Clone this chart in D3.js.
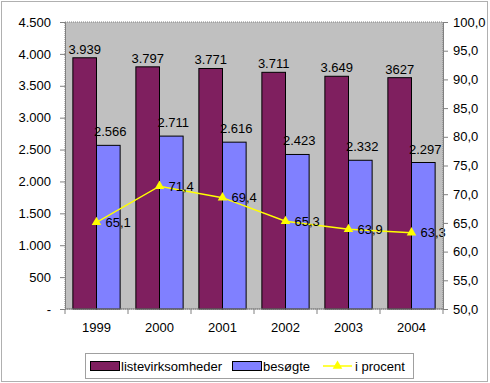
<!DOCTYPE html>
<html>
<head>
<meta charset="utf-8">
<script src="https://cdn.jsdelivr.net/npm/d3@7"></script>
<style>
  body { margin: 0; background: #fff; }
  svg { display: block; font-family: "Liberation Sans", Arial, sans-serif; }
</style>
</head>
<body>
<svg id="chart" width="490" height="383"></svg>
<script>
// data
const years = ["1999", "2000", "2001", "2002", "2003", "2004"];
const listevirksomheder = [3939, 3797, 3771, 3711, 3649, 3627];
const listeLabels = ["3.939", "3.797", "3.771", "3.711", "3.649", "3627"];
const besogte = [2566, 2711, 2616, 2423, 2332, 2297];
const besogteLabels = ["2.566", "2.711", "2.616", "2.423", "2.332", "2.297"];
const iProcent = [65.1, 71.4, 69.4, 65.3, 63.9, 63.3];
const leftTicks = [0, 500, 1000, 1500, 2000, 2500, 3000, 3500, 4000, 4500];
const rightTicks = [50, 55, 60, 65, 70, 75, 80, 85, 90, 95, 100];

const FS = 13;
const svg = d3.select("#chart");
const plot = { left: 65, top: 22, right: 443, bottom: 309 };

// ramme om hele diagrammet
svg.append("rect")
  .attr("x", 1.5).attr("y", 1.5).attr("width", 486).attr("height", 380)
  .attr("fill", "#fff").attr("stroke", "#b0b0b0");

const x = d3.scaleBand().domain(years).range([plot.left, plot.right]).paddingInner(0.25).paddingOuter(0.125);
const xCat = d3.scaleBand().domain(years).range([plot.left, plot.right]);
const yL = d3.scaleLinear().domain([0, 4500]).range([plot.bottom, plot.top]);
const yR = d3.scaleLinear().domain([50, 100]).range([plot.bottom, plot.top]);

// plotområde
svg.append("rect")
  .attr("x", plot.left).attr("y", plot.top)
  .attr("width", plot.right - plot.left).attr("height", plot.bottom - plot.top)
  .attr("fill", "#c0c0c0").attr("stroke", "#808080").attr("stroke-dasharray", "1,1");

const bw = x.bandwidth() / 2;

// søjler
const g = svg.append("g");
g.selectAll("rect.liste").data(listevirksomheder).join("rect")
  .attr("class", "liste")
  .attr("x", (d, i) => x(years[i]))
  .attr("y", d => yL(d))
  .attr("width", bw).attr("height", d => plot.bottom - yL(d))
  .attr("fill", "#7f1f5f").attr("stroke", "#000").attr("stroke-width", 1);
g.selectAll("rect.bes").data(besogte).join("rect")
  .attr("class", "bes")
  .attr("x", (d, i) => x(years[i]) + bw)
  .attr("y", d => yL(d))
  .attr("width", bw).attr("height", d => plot.bottom - yL(d))
  .attr("fill", "#8080ff").attr("stroke", "#000").attr("stroke-width", 1);

// dataetiketter
g.selectAll("text.l1").data(listevirksomheder).join("text")
  .attr("class", "l1")
  .attr("x", (d, i) => x(years[i]) + bw / 2)
  .attr("y", d => yL(d) - 4)
  .attr("text-anchor", "middle").attr("font-size", FS)
  .text((d, i) => listeLabels[i]);
g.selectAll("text.l2").data(besogte).join("text")
  .attr("class", "l2")
  .attr("x", (d, i) => x(years[i]) + bw * 1.5 + 2)
  .attr("y", d => yL(d) - 9)
  .attr("text-anchor", "middle").attr("font-size", FS)
  .text((d, i) => besogteLabels[i]);

// linje
const cx = (i) => xCat(years[i]) + xCat.bandwidth() / 2;
const line = d3.line().x((d, i) => cx(i)).y(d => yR(d));
g.append("path").datum(iProcent)
  .attr("d", line).attr("fill", "none").attr("stroke", "#ffff00").attr("stroke-width", 1.5);
const tri = d3.symbol().type(d3.symbolTriangle).size(40);
g.selectAll("path.m").data(iProcent).join("path")
  .attr("class", "m")
  .attr("transform", (d, i) => `translate(${cx(i)},${yR(d)})`)
  .attr("d", tri).attr("fill", "#ffff00");
g.selectAll("text.p").data(iProcent).join("text")
  .attr("class", "p")
  .attr("x", (d, i) => cx(i) + 9)
  .attr("y", d => yR(d))
  .attr("dy", "0.35em").attr("font-size", FS)
  .text(d => d3.format(".1f")(d).replace(".", ","));

// akser
const fmtL = d => d === 0 ? "-" : d3.format(",")(d).replace(/,/g, ".");
const axL = svg.append("g").attr("transform", `translate(${plot.left},0)`)
  .call(d3.axisLeft(yL).tickValues(leftTicks).tickFormat(fmtL).tickSize(5).tickPadding(9));
const axR = svg.append("g").attr("transform", `translate(${plot.right},0)`)
  .call(d3.axisRight(yR).tickValues(rightTicks).tickFormat(d => d3.format(".1f")(d).replace(".", ",")).tickSize(5).tickPadding(5));
const axB = svg.append("g").attr("transform", `translate(0,${plot.bottom})`)
  .call(d3.axisBottom(xCat).tickSize(0).tickPadding(14));
axB.selectAll("line.sep").data(years.concat(["end"])).join("line")
  .attr("class", "sep")
  .attr("x1", (d, i) => plot.left + i * xCat.step())
  .attr("x2", (d, i) => plot.left + i * xCat.step())
  .attr("y1", 0).attr("y2", 5).attr("stroke", "#808080");
[axL, axR, axB].forEach(a => {
  a.selectAll(".domain").attr("stroke", "#808080");
  a.selectAll(".tick line").attr("stroke", "#808080");
  a.selectAll("text").attr("font-size", FS).attr("fill", "#000")
    .attr("font-family", "'Liberation Sans', Arial, sans-serif");
});
axB.select(".domain").attr("d", `M${plot.left},0H${plot.right}`);

// forklaring
const lg = svg.append("g");
lg.append("rect").attr("x", 85.5).attr("y", 353.5).attr("width", 328).attr("height", 25)
  .attr("fill", "#fff").attr("stroke", "#a0a0a0");
lg.append("rect").attr("x", 90.5).attr("y", 361.5).attr("width", 29).attr("height", 9)
  .attr("fill", "#7f1f5f").attr("stroke", "#000");
lg.append("text").attr("x", 121).attr("y", 370.5).attr("font-size", FS).text("listevirksomheder");
lg.append("rect").attr("x", 232.5).attr("y", 361.5).attr("width", 29).attr("height", 9)
  .attr("fill", "#8080ff").attr("stroke", "#000");
lg.append("text").attr("x", 263).attr("y", 370.5).attr("font-size", FS).text("besøgte");
lg.append("line").attr("x1", 323).attr("x2", 352).attr("y1", 366).attr("y2", 366)
  .attr("stroke", "#ffff00").attr("stroke-width", 1.5);
lg.append("path").attr("transform", "translate(337.5,366)").attr("d", tri).attr("fill", "#ffff00");
lg.append("text").attr("x", 355).attr("y", 370.5).attr("font-size", FS).text("i procent");
</script>
</body>
</html>
